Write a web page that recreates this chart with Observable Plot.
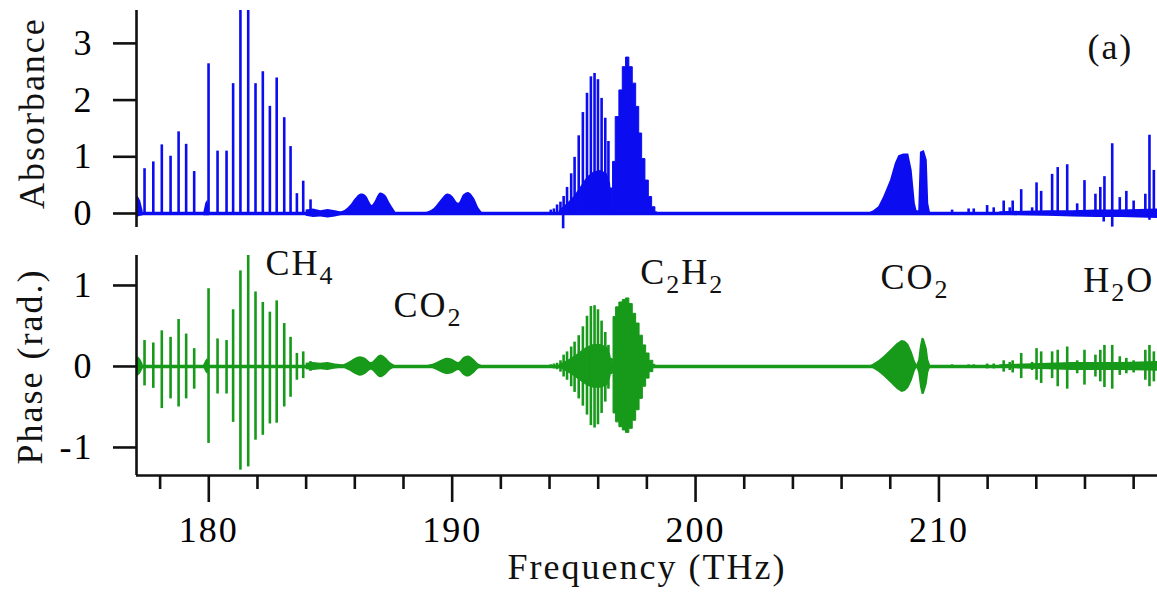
<!DOCTYPE html>
<html>
<head>
<meta charset="utf-8">
<script src="https://cdn.jsdelivr.net/npm/d3@7"></script>
<script src="https://cdn.jsdelivr.net/npm/@observablehq/plot@0.6"></script>
<style>
  body { margin: 0; background: #fff; }
  #chart { position: relative; width: 1157px; height: 592px; background: #fff; }
  #chart svg { position: absolute; left: 0; }
</style>
</head>
<body>
<div id="chart"></div>
<script>
// ---- Spectral data: frequency in THz, absorbance, phase extrema in rad ----

// CH4 2ν3 band, resolved lines
const ch4Freq = [177.36, 177.72, 178.07, 178.43, 178.76, 179.07, 179.40, 179.99, 180.36, 180.73, 181.00,
                 181.30, 181.62, 181.92, 182.22, 182.51, 182.79, 183.10, 183.36, 183.62, 183.88, 184.18];
const ch4Abs = [0.79, 0.91, 1.21, 1.01, 1.44, 1.22, 0.74, 2.64, 1.10, 1.10, 2.29,
                3.58, 3.58, 2.29, 2.50, 1.89, 2.39, 1.69, 1.18, 0.35, 0.57, 0.24];
const ch4PhaseHi = [0.32, 0.29, 0.44, 0.36, 0.58, 0.40, 0.22, 0.96, 0.34, 0.32, 0.70,
                    1.18, 1.37, 0.92, 0.79, 0.67, 0.81, 0.53, 0.36, 0.16, 0.18, 0.06];
const ch4PhaseLo = [-0.24, -0.27, -0.52, -0.40, -0.50, -0.40, -0.28, -0.95, -0.34, -0.34, -0.69,
                    -1.28, -1.24, -0.91, -0.85, -0.71, -0.70, -0.50, -0.38, -0.17, -0.15, -0.06];

// C2H2 ν1+ν3 band, P branch strong lines
const c2h2PFreq = [194.05, 194.18, 194.31, 194.45, 194.58, 194.72, 194.89, 195.03, 195.20, 195.37,
                   195.54, 195.70, 195.85, 195.99, 196.14, 196.29, 196.42, 196.53];
const c2h2PAbs = [0.06, 0.08, 0.15, 0.20, 0.30, 0.46, 0.70, 0.99, 1.37, 1.78,
                  2.12, 2.41, 2.47, 2.36, 2.03, 1.68, 1.27, 0.45];
const c2h2PPhaseHi = [0.02, 0.03, 0.04, 0.07, 0.14, 0.18, 0.24, 0.30, 0.38, 0.49,
                      0.62, 0.74, 0.75, 0.70, 0.56, 0.42, 0.26, 0.10];
const c2h2PPhaseLo = [-0.02, -0.03, -0.04, -0.07, -0.13, -0.17, -0.25, -0.32, -0.40, -0.49,
                      -0.60, -0.73, -0.76, -0.72, -0.58, -0.44, -0.28, -0.10];

// C2H2 P branch: unresolved weak-line core (envelope)
const c2h2CoreFreq = [194.40, 194.73, 195.00, 195.27, 195.55, 195.82, 196.10, 196.37, 196.51, 196.57];
const c2h2CoreAbs = [0.05, 0.17, 0.29, 0.46, 0.64, 0.73, 0.76, 0.70, 0.52, 0.10];
const c2h2CorePhase = [0.02, 0.07, 0.12, 0.18, 0.24, 0.27, 0.27, 0.24, 0.15, 0.04];

// C2H2 R branch envelope
const c2h2RFreq = [196.58, 196.64, 196.80, 196.94, 197.08, 197.21, 197.35, 197.49, 197.63, 197.74,
                   197.87, 198.01, 198.15, 198.28, 198.42];
const c2h2RAbs = [0.15, 0.91, 1.70, 2.17, 2.58, 2.75, 2.58, 2.29, 1.88, 1.41,
                  0.96, 0.58, 0.29, 0.11, 0.02];
const c2h2RPhaseFreq = [196.59, 196.67, 196.80, 196.94, 197.08, 197.21, 197.35, 197.49, 197.63, 197.77,
                        197.90, 198.04, 198.18, 198.35];
const c2h2RPhaseHi = [0.08, 0.61, 0.73, 0.79, 0.82, 0.84, 0.77, 0.65, 0.53, 0.38, 0.26, 0.16, 0.07, 0.02];
const c2h2RPhaseLo = [-0.08, -0.58, -0.69, -0.75, -0.79, -0.82, -0.77, -0.67, -0.54, -0.40, -0.25, -0.15, -0.07, -0.02];

// CO2 combination bands near 186-191 THz
const co2aFreq = [185.41, 185.62, 185.82, 186.03, 186.23, 186.44, 186.64, 186.71, 186.85, 187.05, 187.26, 187.46, 187.67];
const co2aAbs = [0.02, 0.06, 0.14, 0.26, 0.34, 0.32, 0.18, 0.14, 0.22, 0.36, 0.32, 0.17, 0.03];
const co2aPhase = [0.01, 0.03, 0.06, 0.10, 0.12, 0.10, 0.05, 0.05, 0.09, 0.14, 0.11, 0.05, 0.01];
const co2bFreq = [188.97, 189.24, 189.52, 189.79, 190.00, 190.27, 190.48, 190.68, 190.89, 191.09, 191.23];
const co2bAbs = [0.02, 0.08, 0.22, 0.34, 0.31, 0.18, 0.33, 0.37, 0.28, 0.10, 0.02];
const co2bPhase = [0.01, 0.03, 0.07, 0.10, 0.09, 0.05, 0.11, 0.13, 0.09, 0.03, 0.01];

// CO2 band near 208-210 THz
const co2cFreq = [207.19, 207.32, 207.53, 207.73, 208.01, 208.21, 208.35, 208.55, 208.76, 208.90,
                  209.03, 209.10, 209.17, 209.24, 209.40, 209.52, 209.58, 209.65];
const co2cAbs = [0.02, 0.05, 0.12, 0.29, 0.58, 0.88, 1.02, 1.05, 1.05, 0.76,
                 0.17, 0.05, 0.05, 1.08, 1.11, 0.94, 0.17, 0.02];
const co2cPhaseFreq = [207.19, 207.32, 207.53, 207.73, 208.01, 208.28, 208.48, 208.62, 208.76, 208.90,
                       209.03, 209.10, 209.17, 209.24, 209.31, 209.40, 209.52, 209.58, 209.65];
const co2cPhase = [0.01, 0.03, 0.07, 0.12, 0.20, 0.28, 0.32, 0.31, 0.27, 0.18,
                   0.06, 0.02, 0.08, 0.25, 0.35, 0.34, 0.22, 0.08, 0.02];

// H2O lines
const h2oFreq = [210.54, 211.22, 211.43, 211.98, 212.25, 212.66, 212.91, 213.03, 213.38, 213.83,
                 214.01, 214.20, 214.65, 214.88, 215.27, 215.68, 215.98, 216.43, 216.63, 216.80,
                 217.12, 217.43, 217.70, 218.00, 218.48, 218.65, 218.83];
const h2oAbs = [0.06, 0.08, 0.08, 0.14, 0.10, 0.22, 0.10, 0.22, 0.42, 0.10,
                0.54, 0.39, 0.69, 0.81, 0.86, 0.17, 0.58, 0.34, 0.46, 0.65,
                1.23, 0.28, 0.39, 0.22, 0.34, 1.38, 0.76];
const h2oPhaseHi = [0.02, 0.02, 0.02, 0.03, 0.03, 0.07, 0.05, 0.07, 0.16, 0.05,
                    0.22, 0.18, 0.18, 0.20, 0.24, 0.07, 0.20, 0.14, 0.20, 0.26,
                    0.26, 0.12, 0.10, 0.07, 0.20, 0.26, 0.18];
const h2oPhaseLo = [-0.02, -0.02, -0.02, -0.03, -0.03, -0.07, -0.05, -0.08, -0.15, -0.05,
                    -0.17, -0.21, -0.15, -0.25, -0.28, -0.09, -0.23, -0.13, -0.19, -0.26,
                    -0.28, -0.11, -0.09, -0.08, -0.17, -0.25, -0.19];

// Negative excursions of the absorbance trace
const dipFreq = [194.56, 216.77, 217.12, 218.65];
const dipAbs = [-0.27, -0.15, -0.24, -0.12];

// Baseline noise segments: absorbance band and phase band
const noiseSeg = ["a", "a", "a", "a", "b", "b", "b", "b", "c", "c", "c", "c", "c", "c", "d", "d", "d", "d", "d", "d", "d"];
const noiseFreq = [177.03, 177.10, 177.20, 177.30, 179.80, 179.88, 179.96, 180.02,
                   184.0, 184.3, 184.6, 184.9, 185.2, 185.5,
                   212.5, 213.5, 214.5, 215.5, 216.5, 217.5, 218.98];
const noiseAbsHi = [0.28, 0.30, 0.22, 0.05, 0.02, 0.18, 0.24, 0.03, 0.06, 0.08, 0.05, 0.07, 0.05, 0.02,
                    0.03, 0.04, 0.05, 0.05, 0.06, 0.06, 0.08];
const noiseAbsLo = [-0.06, -0.06, -0.05, -0.04, -0.04, -0.04, -0.04, -0.04, -0.05, -0.07, -0.06, -0.08, -0.06, -0.03,
                    -0.03, -0.04, -0.05, -0.06, -0.07, -0.07, -0.09];
const noisePhase = [0.10, 0.12, 0.09, 0.03, 0.02, 0.07, 0.10, 0.03, 0.04, 0.05, 0.04, 0.05, 0.03, 0.02,
                    0.02, 0.03, 0.04, 0.05, 0.05, 0.05, 0.06];

// Labels
const speciesNames = ["CH_4", "CO_2", "C_2H_2", "CO_2", "H_2O"];
const speciesFreq = [182.33, 187.59, 197.73, 207.60, 215.93];
const speciesPhase = [1.27, 0.75, 1.16, 1.10, 1.06];
const panelTag = ["(a)"];
const absTicks = [0, 1, 2, 3];
const phaseTicks = [-1, 0, 1];
const freqTicks = [180, 190, 200, 210];
const freqMinorTicks = [178, 182, 184, 186, 188, 192, 194, 196, 198, 202, 204, 206, 208, 212, 214, 216, 218];

// ---- Tables built from the arrays ----
const lines = [
  ...ch4Freq.map((f, i) => ({f, a: ch4Abs[i], hi: ch4PhaseHi[i], lo: ch4PhaseLo[i]})),
  ...c2h2PFreq.map((f, i) => ({f, a: c2h2PAbs[i], hi: c2h2PPhaseHi[i], lo: c2h2PPhaseLo[i]})),
  ...h2oFreq.map((f, i) => ({f, a: h2oAbs[i], hi: h2oPhaseHi[i], lo: h2oPhaseLo[i]}))
];
const smoothBands = [
  ...co2aFreq.map((f, i) => ({band: "a", f, a: co2aAbs[i], p: co2aPhase[i]})),
  ...co2bFreq.map((f, i) => ({band: "b", f, a: co2bAbs[i], p: co2bPhase[i]}))
];
const co2c = co2cFreq.map((f, i) => ({f, a: co2cAbs[i]}));
const co2cPh = co2cPhaseFreq.map((f, i) => ({f, p: co2cPhase[i]}));
const core = c2h2CoreFreq.map((f, i) => ({f, a: c2h2CoreAbs[i], p: c2h2CorePhase[i]}));
const rBranch = c2h2RFreq.map((f, i) => ({f, a: c2h2RAbs[i]}));
const rBranchPh = c2h2RPhaseFreq.map((f, i) => ({f, hi: c2h2RPhaseHi[i], lo: c2h2RPhaseLo[i]}));
const dips = dipFreq.map((f, i) => ({f, a: dipAbs[i]}));
const noise = noiseFreq.map((f, i) => ({seg: noiseSeg[i], f, hi: noiseAbsHi[i], lo: noiseAbsLo[i], p: noisePhase[i]}));
const species = speciesNames.map((name, i) => ({name, f: speciesFreq[i], y: speciesPhase[i]}));

// ---- Shared layout ----
const BLUE = "#0c0cf0";
const GREEN = "#17991a";
const INK = "#111";
const FONT = "'Liberation Serif', 'Times New Roman', serif";
const FS = 36;
const xDomain = [177.03, 218.98];
const absDomain = [-0.247, 3.58];
const phaseDomain = [-1.346, 1.37];
const baseStyle = {fontFamily: FONT, fontSize: FS + "px", letterSpacing: "2px", background: "transparent", overflow: "visible"};

const topPanel = Plot.plot({
  width: 1157, height: 230,
  marginLeft: 136, marginRight: 0, marginTop: 10, marginBottom: 3,
  x: {domain: xDomain, axis: null},
  y: {domain: absDomain},
  style: baseStyle,
  marks: [
    Plot.ruleY([0], {stroke: BLUE, strokeWidth: 3.5}),
    Plot.areaY(noise, {x: "f", y1: "lo", y2: "hi", z: "seg", fill: BLUE}),
    Plot.areaY(smoothBands, {x: "f", y: "a", z: "band", fill: BLUE, curve: "catmull-rom"}),
    Plot.areaY(co2c, {x: "f", y: "a", fill: BLUE}),
    Plot.areaY(core, {x: "f", y: "a", fill: BLUE}),
    Plot.areaY(rBranch, {x: "f", y: "a", fill: BLUE, stroke: BLUE, strokeWidth: 1, curve: "step"}),
    Plot.ruleX(lines, {x: "f", y1: 0, y2: "a", stroke: BLUE, strokeWidth: 2.6}),
    Plot.ruleX(dips, {x: "f", y1: 0, y2: "a", stroke: BLUE, strokeWidth: 2.6}),
    Plot.ruleX([xDomain[0]], {stroke: INK, strokeWidth: 2.6}),
    Plot.axisY({ticks: absTicks, tickSize: 23, tickPadding: 20, strokeWidth: 2.6, stroke: INK,
                fontSize: FS, label: null, tickFormat: d => String(d)}),
    Plot.text(panelTag, {text: d => d, x: [216.1], y: [2.93], textAnchor: "start", lineAnchor: "middle",
                         fontSize: FS, fill: INK}),
    Plot.text(["Absorbance"], {text: d => d, y: [1.77], frameAnchor: "left", dx: -104, rotate: -90,
                               textAnchor: "middle", lineAnchor: "middle", fontSize: FS, fill: INK})
  ]
});
topPanel.style.top = "0px";

const bottomPanel = Plot.plot({
  width: 1157, height: 362,
  marginLeft: 136, marginRight: 0, marginTop: 25, marginBottom: 117,
  x: {domain: xDomain},
  y: {domain: phaseDomain},
  style: baseStyle,
  marks: [
    Plot.ruleY([0], {stroke: GREEN, strokeWidth: 3.5}),
    Plot.areaY(noise, {x: "f", y1: d => -d.p, y2: "p", z: "seg", fill: GREEN}),
    Plot.areaY(smoothBands, {x: "f", y1: d => -d.p, y2: "p", z: "band", fill: GREEN, curve: "catmull-rom"}),
    Plot.areaY(co2cPh, {x: "f", y1: d => -d.p, y2: "p", fill: GREEN}),
    Plot.areaY(core, {x: "f", y1: d => -d.p, y2: "p", fill: GREEN}),
    Plot.areaY(rBranchPh, {x: "f", y1: "lo", y2: "hi", fill: GREEN, stroke: GREEN, strokeWidth: 1, curve: "step"}),
    Plot.ruleX(lines, {x: "f", y1: "lo", y2: "hi", stroke: GREEN, strokeWidth: 2.6}),
    Plot.ruleX([xDomain[0]], {stroke: INK, strokeWidth: 2.6}),
    Plot.ruleY([phaseDomain[0]], {stroke: INK, strokeWidth: 2.6}),
    Plot.axisY({ticks: phaseTicks, tickSize: 23, tickPadding: 20, strokeWidth: 2.6, stroke: INK,
                fontSize: FS, label: null, tickFormat: d => String(d)}),
    Plot.axisX({ticks: freqTicks, tickSize: 27, tickPadding: 14, strokeWidth: 2.6, stroke: INK,
                fontSize: FS, label: null, tickFormat: d => String(d)}),
    Plot.axisX({ticks: freqMinorTicks, tickSize: 14, strokeWidth: 2.6, stroke: INK,
                label: null, tickFormat: () => ""}),
    Plot.text(species, {text: "name", x: "f", y: "y", textAnchor: "start", lineAnchor: "middle",
                        fontSize: FS, fill: INK}),
    Plot.text(["Phase (rad.)"], {text: d => d, y: [0], frameAnchor: "left", dx: -106, rotate: -90,
                                 textAnchor: "middle", lineAnchor: "middle", fontSize: FS, fill: INK}),
    Plot.text(["Frequency (THz)"], {text: d => d, frameAnchor: "bottom", dy: 92,
                                    textAnchor: "middle", lineAnchor: "middle", fontSize: FS, fill: INK})
  ]
});
bottomPanel.style.top = "230px";

// Chemical formulae: turn "_n" into a lowered, smaller subscript
d3.select(bottomPanel).selectAll("text").each(function () {
  const s = this.textContent;
  if (!s.includes("_")) return;
  const el = d3.select(this);
  el.text(null);
  const shift = Math.round(FS * 0.24);
  let lowered = false;
  s.split(/_(\d)/).forEach((part, i) => {
    if (!part) return;
    const sub = i % 2 === 1;
    const t = el.append("tspan").text(part);
    if (sub) { t.attr("font-size", Math.round(FS * 0.72)).attr("dy", shift); lowered = true; }
    else if (lowered) { t.attr("dy", -shift); lowered = false; }
  });
});

const chart = document.getElementById("chart");
chart.appendChild(topPanel);
chart.appendChild(bottomPanel);
</script>
</body>
</html>
